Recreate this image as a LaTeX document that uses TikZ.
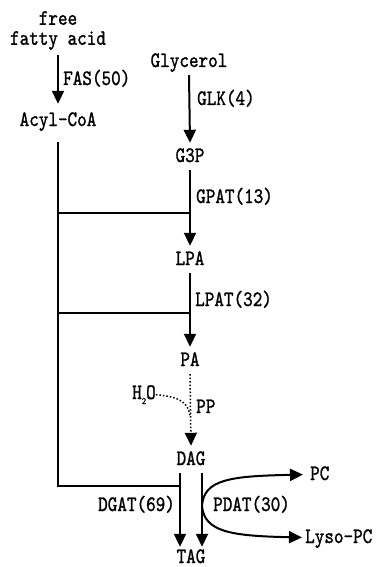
\documentclass[tikz,border=0pt]{standalone}
\usepackage{fontspec}
\setmainfont{lmmono10-regular.otf}[FakeStretch=0.83, FakeBold=1.2]
\usetikzlibrary{arrows.meta,calc}
\begin{document}
\begin{tikzpicture}[x=1pt,y=-1pt,
  every node/.style={font=\fontsize{22}{22}\selectfont, inner sep=0pt},
  met/.style={text height=15pt, text depth=4pt, inner ysep=4pt, inner xsep=0pt, anchor=base},
  lab/.style={anchor=base west},
  arr/.style={line width=2pt, -{Triangle[width=12pt,length=13pt]}},
  ln/.style={line width=2pt},
  dotl/.style={line width=1.5pt, dotted}]
\useasboundingbox (0,0) rectangle (379,567);
% metabolites
\node[align=center, anchor=south, font=\fontsize{22}{20}\selectfont] (ffa) at (58,50) {free\\fatty acid};
\node[met] (acyl) at (58,126) {Acyl-CoA};
\node[met] (gly) at (189,67) {Glycerol};
\node[met] (g3p) at (190,162) {G3P};
\node[met] (lpa) at (190,265) {LPA};
\node[met] (pa) at (190,366) {PA};
\node[met] (dag) at (191,465) {DAG};
\node[met, text depth=0pt, inner ysep=3pt] (tag) at (191,563) {TAG};
\node[met, anchor=base west] (pc) at (310,480) {PC};
\node[met, anchor=base west] (lyso) at (305,543) {Lyso-PC};
\node[anchor=base west] (h2o) at (132,399) {H\raisebox{-5pt}{\fontsize{10}{10}\selectfont 2}O};
% enzyme labels
\node[lab] (fas) at (63,85) {FAS(50)};
\node[lab] (glk) at (197,105) {GLK(4)};
\node[lab] (gpat) at (196,203) {GPAT(13)};
\node[lab] (lpat) at (195,306) {LPAT(32)};
\node[lab] (pp) at (196,413) {PP};
\node[lab] (dgat) at (98,511) {DGAT(69)};
\node[lab] (pdat) at (213,511) {PDAT(30)};
% main arrows
\draw[arr, shorten <=5pt, shorten >=3pt] (ffa.south) -- (acyl.north);
\draw[arr] (gly.south) -- (g3p.north);
\draw[arr] (g3p.south) -- (lpa.north);
\draw[arr] (lpa.south) -- (pa.north);
\draw[dotl, -{Triangle[width=12pt,length=13pt]}] (pa.south) -- (dag.north);
\draw[dotl] (h2o.east) .. controls (180,397) and (188,402) .. (190,416);
% acyl-CoA supply line
\coordinate (j1) at (58,213);
\coordinate (j2) at (58,313);
\coordinate (j3) at (58,486);
\coordinate (dl1) at ([xshift=-11pt]dag.south);
\coordinate (dl2) at ([xshift=-11pt,yshift=-2pt]tag.north);
\coordinate (dr1) at ([xshift=11pt]dag.south);
\coordinate (dr2) at ([xshift=11pt,yshift=-2pt]tag.north);
\draw[ln, shorten <=8pt] (acyl.south) -- (j3) -- (j3 -| dl1);
\draw[ln] (j1) -- (j1 -| g3p);
\draw[ln] (j2) -- (j2 -| lpa);
\draw[arr] (dl1) -- (dl2);
\draw[arr] (dr1) -- (dr2);
\coordinate (p0) at ($(dr1)!0.44!(dr2)$);
\draw[arr, shorten >=7pt] (p0) .. controls ($(p0)+(2,-26)$) and (230,476) .. (pc.west);
\draw[arr, shorten >=3pt] (p0) .. controls ($(p0)+(2,26)$) and (230,536) .. (lyso.west);
\end{tikzpicture}
\end{document}
